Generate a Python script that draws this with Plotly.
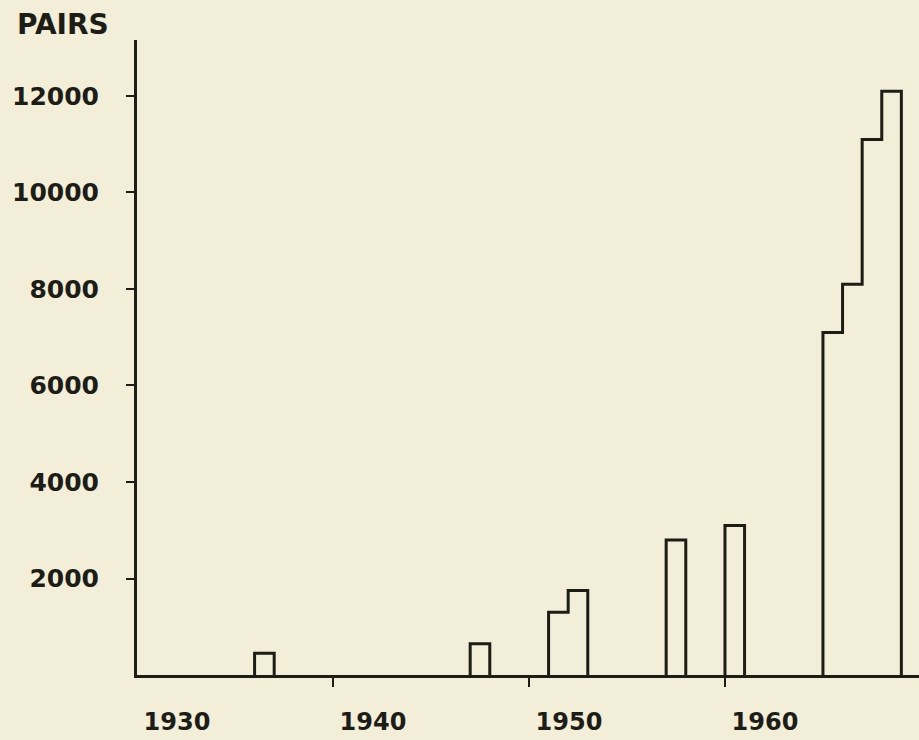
import plotly.graph_objects as go

# ---- data ----
years = [1936, 1947, 1951, 1952, 1957, 1960, 1965, 1966, 1967, 1968]
pairs = [450, 650, 1300, 1750, 2800, 3100, 7100, 8100, 11100, 12100]

y_tick_vals = [2000, 4000, 6000, 8000, 10000, 12000]
y_tick_text = ["2000", "4000", "6000", "8000", "10000", "12000"]
x_label_vals = [1930, 1940, 1950, 1960]
x_label_text = ["1930", "1940", "1950", "1960"]
x_tick_marks = [1940, 1950, 1960]
y_title = "PAIRS"

INK = "#1d1d17"
BG = "#f2eed8"
FONT = "DejaVu Sans"

# group consecutive years into histogram blocks
groups = []
for yr, v in zip(years, pairs):
    if groups and groups[-1][-1][0] == yr - 1:
        groups[-1].append((yr, v))
    else:
        groups.append([(yr, v)])

fig = go.Figure()
for g in groups:
    xs = [g[0][0]]
    ys = [0]
    for yr, v in g:
        xs.append(yr)
        ys.append(v)
    last_year, last_val = g[-1]
    xs += [last_year + 1, last_year + 1]
    ys += [last_val, 0]
    fig.add_trace(go.Scatter(
        x=xs, y=ys, mode="lines", line=dict(color=INK, width=3, shape="hv"),
        hoverinfo="skip", showlegend=False, cliponaxis=False))

# invisible trace for the tick-mark overlay axis
fig.add_trace(go.Scatter(x=[x_tick_marks[0]], y=[0], xaxis="x2", mode="markers",
                         marker=dict(opacity=0), hoverinfo="skip", showlegend=False))

x_range = [1930, 1969.9]
fig.update_layout(
    width=919, height=740,
    margin=dict(l=137, r=0, t=40, b=65),
    paper_bgcolor=BG, plot_bgcolor=BG,
    font=dict(family=FONT, color=INK),
    xaxis=dict(range=x_range, showgrid=False, zeroline=False,
               showline=True, linecolor=INK, linewidth=3,
               tickmode="array", tickvals=x_label_vals, ticktext=x_label_text,
               ticks="", tickfont=dict(size=24, family=FONT, color=INK, weight="bold"),
               ticklabelshift=40, ticklabelstandoff=23),
    xaxis2=dict(range=x_range, overlaying="x", side="bottom", showgrid=False,
                zeroline=False, showline=False, showticklabels=False,
                tickmode="array", tickvals=x_tick_marks, ticks="outside",
                ticklen=11, tickwidth=2, tickcolor=INK),
    yaxis=dict(range=[0, 13160], showgrid=False, zeroline=False,
               showline=True, linecolor=INK, linewidth=3,
               tickmode="array", tickvals=y_tick_vals, ticktext=y_tick_text,
               ticks="outside", ticklen=8, tickwidth=2, tickcolor=INK,
               tickfont=dict(size=25, family=FONT, color=INK, weight="bold"),
               ticklabelstandoff=22),
    annotations=[dict(text=y_title, xref="paper", yref="paper", x=0, y=1,
                      xanchor="left", yanchor="middle", xshift=-122, yshift=16,
                      showarrow=False,
                      font=dict(size=28, family=FONT, color=INK, weight="bold"))],
)

fig.write_html(
    "out.html",
    config={"displayModeBar": False},
    post_script=("document.body.style.margin='0';"
                 "document.body.style.overflow='hidden';"
                 "document.body.style.background='" + BG + "';"),
)
